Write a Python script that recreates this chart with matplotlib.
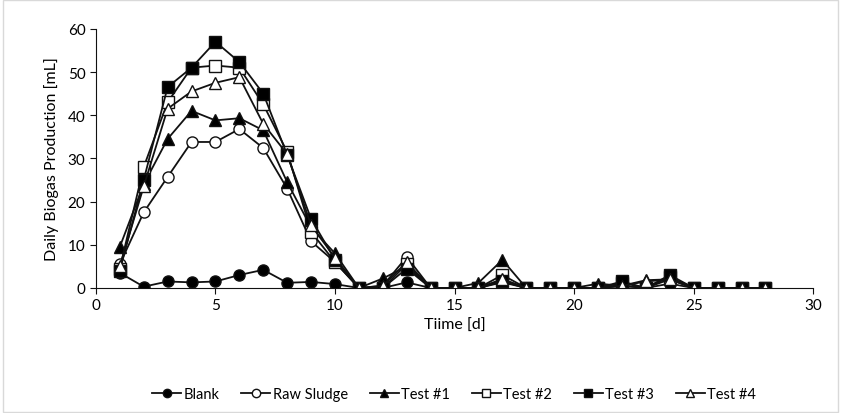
import matplotlib.pyplot as plt
from matplotlib.patches import Rectangle

plt.rcParams['font.family'] = ['Lato', 'DejaVu Sans']

# data
days = list(range(1, 29))
blank = [3.5, 0.3, 1.5, 1.3, 1.5, 3.0, 4.2, 1.2, 1.4, 0.9, 0, 0, 1.3, 0, 0, 0, 1.3, 0, 0, 0, 0, 0.5, 0, 1.0, 0, 0, 0, 0]
raw_sludge = [5.5, 17.5, 25.7, 33.8, 33.8, 36.8, 32.4, 23.0, 10.8, 6.0, 0, 0.5, 7.2, 0, 0, 0, 2.0, 0, 0, 0, 0, 0.5, 0, 2.0, 0, 0, 0, 0]
test1 = [9.5, 24.0, 34.5, 41.0, 38.8, 39.3, 36.5, 24.5, 14.0, 8.0, 0, 2.2, 5.0, 0, 0, 1.2, 6.5, 0, 0, 0, 1.0, 0.5, 1.8, 2.0, 0, 0, 0, 0]
test2 = [4.5, 28.0, 43.0, 51.0, 51.5, 51.0, 42.5, 31.5, 13.0, 6.0, 0, 0, 5.5, 0, 0, 0, 3.0, 0, 0, 0, 0, 1.2, 0, 2.5, 0, 0, 0, 0]
test3 = [4.0, 25.0, 46.5, 51.0, 57.0, 52.3, 45.0, 30.8, 16.0, 6.5, 0, 0, 4.5, 0, 0, 0, 1.5, 0, 0, 0, 0, 1.5, 0, 3.0, 0, 0, 0, 0]
test4 = [5.0, 23.5, 41.5, 45.5, 47.5, 48.8, 38.0, 31.0, 14.5, 7.0, 0, 0.5, 6.0, 0, 0, 0, 2.0, 0, 0, 0, 0, 0.5, 1.5, 2.0, 0, 0, 0, 0]

series = [
    ('Blank', blank, 'o', 'k'),
    ('Raw Sludge', raw_sludge, 'o', 'white'),
    ('Test #1', test1, '^', 'k'),
    ('Test #2', test2, 's', 'white'),
    ('Test #3', test3, 's', 'k'),
    ('Test #4', test4, '^', 'white'),
]

fig = plt.figure(figsize=(8.41, 4.14), dpi=100)
ax = fig.add_axes([0.114, 0.302, 0.853, 0.626])

for name, vals, mk, fc in series:
    ax.plot(days, vals, color='#111111', lw=1.3, marker=mk, markersize=8,
            markerfacecolor=fc, markeredgecolor='#111111', markeredgewidth=1.0,
            label=name)

ax.set_xlim(0, 30)
ax.set_ylim(0, 60)
ax.set_xticks(range(0, 31, 5))
ax.set_yticks(range(0, 61, 10))
ax.spines['top'].set_visible(False)
ax.spines['right'].set_visible(False)
ax.spines['left'].set_color('#111111')
ax.spines['bottom'].set_color('#111111')
ax.tick_params(axis='both', direction='out', length=4, width=0.8, labelsize=11, color='#111111')
ax.set_xlabel('Tiime [d]', fontsize=11.5, labelpad=4)
ax.set_ylabel('Daily Biogas Production [mL]', fontsize=11.5, labelpad=6)

fig.legend(loc='center', bbox_to_anchor=(0.54, 0.045), ncol=6, frameon=False,
           fontsize=10.5, handlelength=2.0, handletextpad=0.15, columnspacing=1.5,
           markerscale=0.75)

fig.patches.append(Rectangle((0.003, 0.003), 0.994, 0.994, transform=fig.transFigure,
                             fill=False, edgecolor='#d9d9d9', lw=1))

fig.savefig('out.png', dpi=100)
